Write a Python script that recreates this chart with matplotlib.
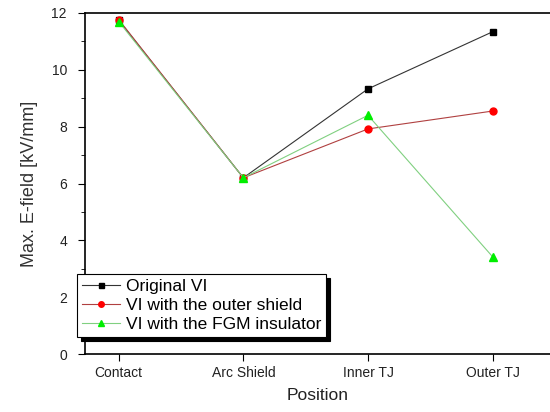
import numpy as np
import matplotlib.pyplot as plt
from matplotlib.ticker import MultipleLocator

plt.rcParams['font.family'] = ['Liberation Sans', 'DejaVu Sans']

# data
positions = ['Contact', 'Arc Shield', 'Inner TJ', 'Outer TJ']
original_vi = [11.75, 6.2, 9.33, 11.34]
outer_shield = [11.77, 6.2, 7.92, 8.55]
fgm_insulator = [11.7, 6.2, 8.4, 3.42]

x = np.arange(len(positions))

fig = plt.figure(figsize=(5.5, 4.12), dpi=100)
ax = fig.add_axes([85/550, 1 - 354/412, 1 - 85/550, (354 - 13)/412])

ax.plot(x, original_vi, color='#333333', lw=0.8, marker='s', ms=4.5,
        mfc='black', mec='black', label='Original VI')
ax.plot(x, outer_shield, color='#b04040', lw=0.8, marker='o', ms=5,
        mfc='red', mec='red', label='VI with the outer shield')
ax.plot(x, fgm_insulator, color='#80d080', lw=0.8, marker='^', ms=6,
        mfc='#00ee00', mec='#00ee00', label='VI with the FGM insulator')

ax.set_xlim(-0.27, 3.46)
ax.set_ylim(0, 12)
ax.set_xticks(x)
ax.set_xticklabels(positions)
ax.yaxis.set_major_locator(MultipleLocator(2))
ax.yaxis.set_minor_locator(MultipleLocator(1))
ax.tick_params(axis='both', which='major', direction='out', length=5, labelsize=10,
               labelcolor='#222222')
ax.tick_params(axis='y', which='major', pad=8)
ax.tick_params(axis='y', which='minor', direction='out', length=3)
ax.spines['right'].set_visible(False)
for s in ['left', 'bottom', 'top']:
    ax.spines[s].set_linewidth(1.2)

ax.set_xlabel('Position', fontsize=12.5, color='#222222', labelpad=6)
ax.set_ylabel('Max. E-field [kV/mm]', fontsize=13, color='#333333', labelpad=10)

leg = ax.legend(loc='lower left', bbox_to_anchor=(-0.017, 0.05), borderaxespad=0,
                fancybox=False, shadow={'color': 'black', 'alpha': 1, 'ox': 3, 'oy': -3},
                edgecolor='black', fontsize=12.5, handlelength=2.2, borderpad=0.3,
                labelspacing=0.2, handletextpad=0.3, framealpha=1, markerscale=0.8)
leg.get_frame().set_linewidth(0.8)

fig.savefig('out.png', dpi=100)
